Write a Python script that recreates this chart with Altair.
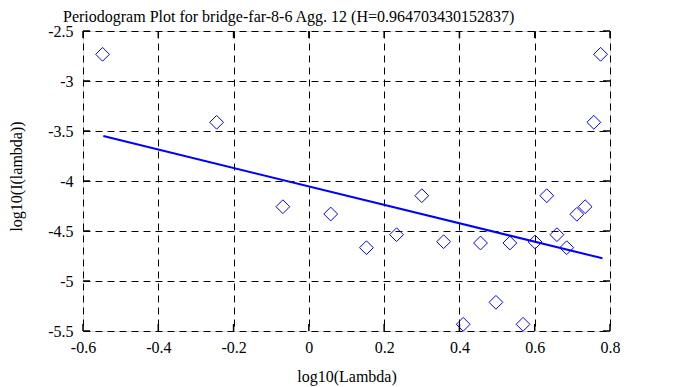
import altair as alt
import pandas as pd

# Periodogram points (log10 lambda, log10 I(lambda))
log_lambda = [-0.548, -0.245, -0.069, 0.058, 0.153, 0.233, 0.300, 0.358, 0.410,
              0.456, 0.497, 0.534, 0.569, 0.601, 0.632, 0.659, 0.685, 0.712,
              0.734, 0.757, 0.775]
log_I = [-2.733, -3.413, -4.257, -4.330, -4.667, -4.537, -4.147, -4.607, -5.433,
         -4.620, -5.213, -4.620, -5.433, -4.610, -4.147, -4.537, -4.667, -4.333,
         -4.257, -3.413, -2.733]

# Least-squares fit line endpoints
fit_x = [-0.546, 0.780]
fit_y = [-3.550, -4.773]

x_ticks = [-0.6, -0.4, -0.2, 0.0, 0.2, 0.4, 0.6, 0.8]
y_ticks = [-2.5, -3.0, -3.5, -4.0, -4.5, -5.0, -5.5]

FONT = "Liberation Serif"
W, H = 527, 300
TL = 7
LBL = "replace(format(datum.value, '~g'), '\u2212', '-')"

pts = pd.DataFrame({"x": log_lambda, "y": log_I})
fit = pd.DataFrame({"x": fit_x, "y": fit_y})
xt = pd.DataFrame({"v": x_ticks})
yt = pd.DataFrame({"v": y_ticks})

xscale = alt.Scale(domain=[-0.6, 0.8], nice=False, zero=False)
yscale = alt.Scale(domain=[-5.5, -2.5], nice=False, zero=False)

xaxis = alt.Axis(values=x_ticks, title="log10(Lambda)", labelExpr=LBL,
                 labelFont=FONT, labelFontSize=16, titleFont=FONT, titleFontSize=16,
                 titleBaseline="alphabetic", titleY=50, labelPadding=8)
yaxis = alt.Axis(values=y_ticks, title="log10(I(lambda))", labelExpr=LBL,
                 labelFont=FONT, labelFontSize=16, titleFont=FONT, titleFontSize=16,
                 titleAngle=270, titleBaseline="alphabetic", titleX=-62, titleY=145,
                 labelPadding=10)

base_pts = alt.Chart(pts).mark_point(shape="diamond", size=190, filled=False,
                                     color="#0000ff", strokeWidth=1, opacity=1).encode(
    x=alt.X("x:Q", scale=xscale, axis=xaxis),
    y=alt.Y("y:Q", scale=yscale, axis=yaxis),
)

line = alt.Chart(fit).mark_line(color="#0000ff", strokeWidth=2).encode(
    x=alt.X("x:Q", scale=xscale, axis=xaxis), y=alt.Y("y:Q", scale=yscale, axis=yaxis)
)

xt_bot = alt.Chart(xt).mark_rule(color="black", strokeWidth=1.5).encode(
    x=alt.X("v:Q", scale=xscale, axis=xaxis), y=alt.value(H), y2=alt.value(H - TL))
xt_top = alt.Chart(xt).mark_rule(color="black", strokeWidth=1.5).encode(
    x=alt.X("v:Q", scale=xscale, axis=xaxis), y=alt.value(0), y2=alt.value(TL))
yt_left = alt.Chart(yt).mark_rule(color="black", strokeWidth=1.5).encode(
    y=alt.Y("v:Q", scale=yscale, axis=yaxis), x=alt.value(0), x2=alt.value(TL))
yt_right = alt.Chart(yt).mark_rule(color="black", strokeWidth=1.5).encode(
    y=alt.Y("v:Q", scale=yscale, axis=yaxis), x=alt.value(W), x2=alt.value(W - TL))

chart = alt.layer(base_pts, line, xt_bot, xt_top, yt_left, yt_right).properties(
    width=W, height=H,
    title=alt.TitleParams("Periodogram Plot for bridge-far-8-6 Agg. 12 (H=0.964703430152837)",
                          font=FONT, fontSize=16, fontWeight="normal", color="black",
                          anchor="start", frame="group", dx=-20, offset=-2),
    padding={"left": 75, "top": 23, "right": 50, "bottom": 55},
    autosize=alt.AutoSizeParams(type="none"),
).configure_view(stroke="black", strokeWidth=2).configure(background="white").configure_axis(
    grid=True, gridColor="black", gridDash=[7, 5], gridWidth=1, gridOpacity=1,
    domain=False, ticks=False,
    labelFont=FONT, labelFontSize=16, labelColor="black", labelFlush=False,
    titleFont=FONT, titleFontSize=16, titleFontWeight="normal", titleColor="black",
)

chart.save("out.html", embed_options={"renderer": "svg", "actions": False})
